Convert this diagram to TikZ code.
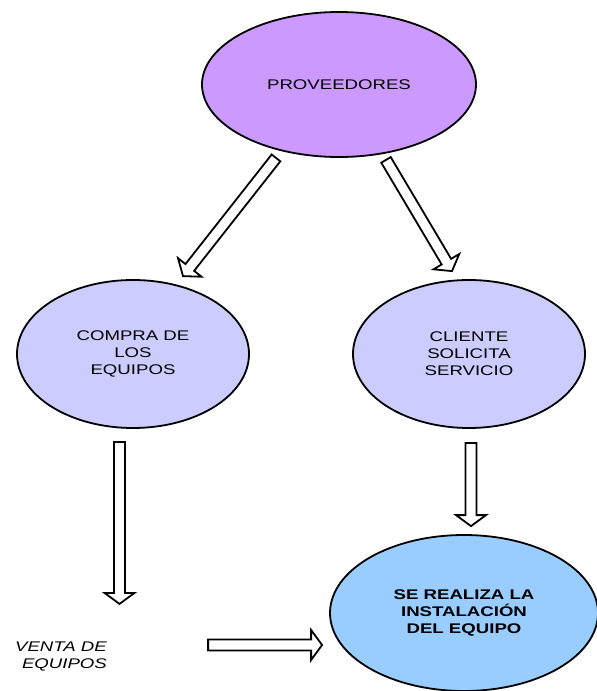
\documentclass[tikz,border=0pt]{standalone}
\usepackage{fontspec}
\setmainfont{Liberation Sans}[FakeStretch=1.33]
\usepackage{tikz}
\usetikzlibrary{calc}
\usetikzlibrary{shapes.geometric}
\definecolor{violet}{HTML}{CC99FF}
\definecolor{lavender}{HTML}{CCCCFF}
\definecolor{skyblue}{HTML}{99CCFF}

\begin{document}
\begin{tikzpicture}[
            x = 1pt, y = -1pt, % pixel grid of the reference
            line width = 1.8pt % line style
            ]

        \tikzstyle{oval}=[
            ellipse,
            draw = black,
            inner sep = 0pt,
            align = center,
            font = \fontsize{14pt}{17pt}\selectfont
        ]
        \tikzstyle{hollow}=[
            draw = black,
            fill = white,
            line join = miter,
            to path = {let \p1 = (\tikztostart), \p2 = (\tikztotarget),
                \n1 = {atan2(\y2-\y1,\x2-\x1)},
                \n2 = {veclen(\x2-\x1,\y2-\y1)-11pt} in
                ($(\p1)+(\n1+90:5.5pt)$) -- ($(\p1)+(\n1:\n2)+(\n1+90:5.5pt)$)
                -- ($(\p1)+(\n1:\n2)+(\n1+90:15pt)$) -- (\p2)
                -- ($(\p1)+(\n1:\n2)+(\n1-90:15pt)$)
                -- ($(\p1)+(\n1:\n2)+(\n1-90:5.5pt)$)
                -- ($(\p1)+(\n1-90:5.5pt)$) -- cycle}
        ]

        \useasboundingbox (0,0) rectangle (597,691);

	% top level
	\node[oval, fill = violet, minimum width = 274pt, minimum height = 145pt] (P) at (339,84.5) {PROVEEDORES};

        % middle level
        \node[oval, fill = lavender, minimum width = 232pt, minimum height = 148pt] (C) at (133,354) {COMPRA DE\\LOS\\EQUIPOS};
        \node[oval, fill = lavender, minimum width = 232pt, minimum height = 148pt] (S) at (469,354) {CLIENTE\\SOLICITA\\SERVICIO};

        % bottom level
        \node[oval, fill = skyblue, minimum width = 268pt, minimum height = 156pt, font = \fontsize{14pt}{17pt}\selectfont\bfseries] (I) at (464,613) {SE REALIZA LA\\INSTALACIÓN\\DEL EQUIPO};
        \node[align = right, inner sep = 0pt, font = \fontsize{14pt}{17pt}\selectfont\itshape] (V) at (61,656) {VENTA DE\\EQUIPOS};

        % arrow ends
        \coordinate (P1) at ([xshift = -63pt]P.south);
        \coordinate (C1) at ([xshift = 50pt, yshift = 3pt]C.north);
        \coordinate (P2) at ([xshift = 47pt, yshift = -2pt]P.south);
        \coordinate (S1) at ([xshift = -17pt, yshift = 8pt]S.north);
        \coordinate (C2) at ([xshift = -13.5pt, yshift = -13pt]C.south);
        \coordinate (V1) at ([xshift = -13.5pt, yshift = -175pt]C.south);
        \coordinate (S2) at ([xshift = 2pt, yshift = -14pt]S.south);
        \coordinate (I1) at ([xshift = 7pt, yshift = 8pt]I.north);
        \coordinate (V2) at ([xshift = -121pt, yshift = -32pt]I.west);
        \coordinate (I2) at ([xshift = -7pt, yshift = -32pt]I.west);

        \draw[hollow] (P1) to (C1);
        \draw[hollow] (P2) to (S1);
        \draw[hollow] (C2) to (V1);
        \draw[hollow] (S2) to (I1);
        \draw[hollow] (V2) to (I2);

  \end{tikzpicture}
\end{document}
